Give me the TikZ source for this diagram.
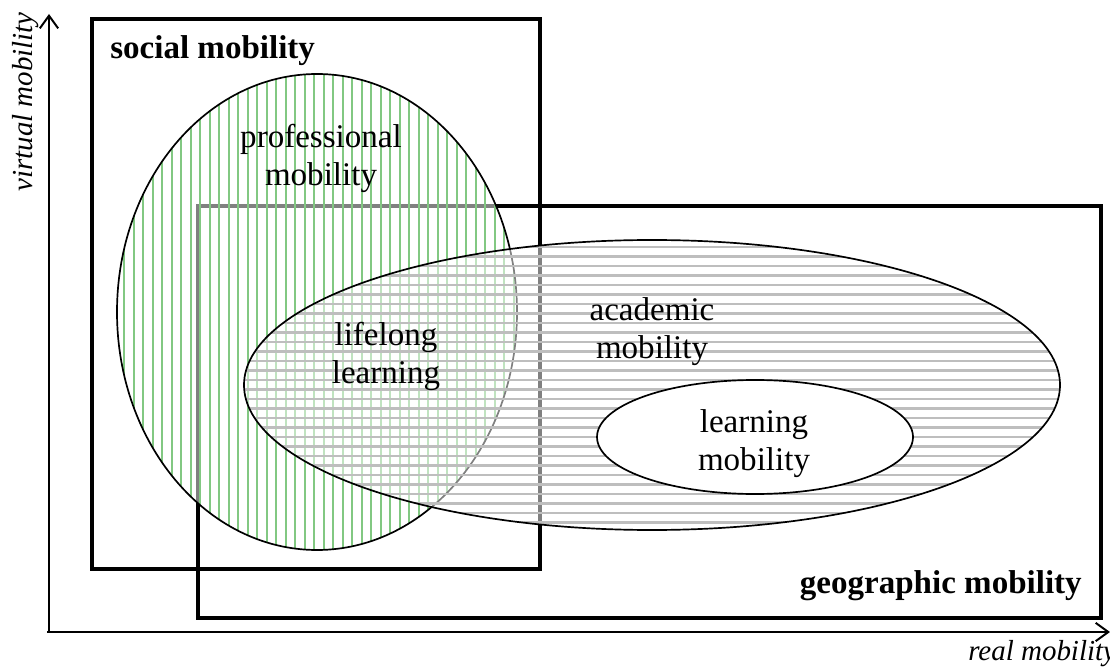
\documentclass[tikz,border=0pt]{standalone}
\usepackage{fontspec}
\setmainfont{Liberation Serif}
\usetikzlibrary{arrows.meta}

\definecolor{hatchgreen}{RGB}{130,200,130}
\definecolor{hatchgray}{RGB}{190,190,190}

\tikzset{
  lbl/.style={align=center, inner sep=0pt, font=\fontsize{23.5}{27}\selectfont},
  title/.style={inner sep=0pt, font=\fontsize{23.5}{27}\selectfont\bfseries},
  axislbl/.style={inner sep=0pt, font=\fontsize{20.6}{24}\selectfont\itshape},
  axis/.style={-{Straight Barb[length=9pt,width=13pt]}, line width=1.4pt},
  frame/.style={line width=2.5pt},
  rim/.style={line width=1.2pt},
}

\begin{document}
\begin{tikzpicture}[x=0.025cm,y=-0.025cm]
\useasboundingbox (0,0) rectangle (1110,668);

% axes
\draw [axis] (47,632) -- (1110,632);
\draw [axis] (49,632) -- (49,14);

% the two frames
\draw [frame] (92,19) rectangle (540,569);
\draw [frame] (198,206) rectangle (1101,618);

% professional mobility, green vertical hatching
\fill [white, fill opacity=0.5] (317,312) ellipse [x radius=200, y radius=238];
\begin{scope}
\clip (317,312) ellipse [x radius=200, y radius=238];
\foreach \x in {124.2,133.7,...,520}
  \draw [hatchgreen, line width=1.6pt] (\x,70) -- (\x,555);
\end{scope}
\draw [rim] (317,312) ellipse [x radius=200, y radius=238];

% academic mobility, grey horizontal hatching
\fill [white, fill opacity=0.5] (652,385) ellipse [x radius=408, y radius=145];
\begin{scope}
\clip (652,385) ellipse [x radius=408, y radius=145];
\foreach \y in {247,256.5,...,535}
  \draw [hatchgray, line width=1.6pt] (240,\y) -- (1065,\y);
\end{scope}
\draw [rim] (652,385) ellipse [x radius=408, y radius=145];

% learning mobility
\filldraw [fill=white, rim] (755,437) ellipse [x radius=158, y radius=57];

\node [lbl] (prof) at (321,158) {professional\\mobility};
\node [lbl] (lifelong) at (386,356) {lifelong\\learning};
\node [lbl] (acad) at (652,332) {academic\\mobility};
\node [lbl] (learn) at (754,444) {learning\\mobility};

\node [title, anchor=base west] (social) at (110,59) {social mobility};
\node [title, anchor=base east] (geo) at (1082,593) {geographic mobility};

\node [axislbl, anchor=base west] (real) at (968,660) {real mobility};
\node [axislbl, anchor=base east, rotate=90] (virtual) at (32,12) {virtual mobility};

\end{tikzpicture}
\end{document}
